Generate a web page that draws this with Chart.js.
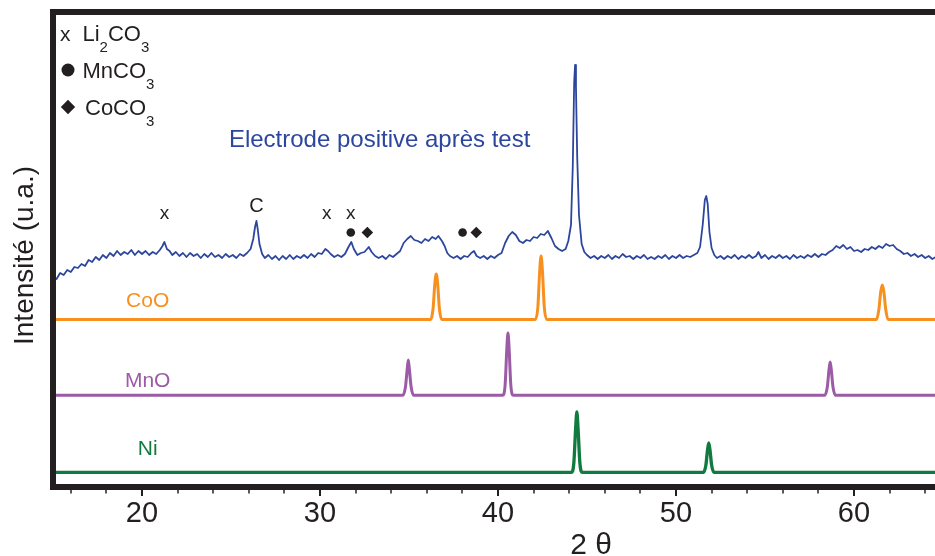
<!DOCTYPE html>
<html><head><meta charset="utf-8">
<script src="https://cdn.jsdelivr.net/npm/chart.js@4/dist/chart.umd.min.js"></script>
<style>html,body{margin:0;padding:0;background:#fff;overflow:hidden;width:935px;height:556px}canvas{display:block}</style>
</head><body><canvas id="c" width="950" height="556"></canvas>
<script>
// ---- axis ticks ----
const tickValues = [20, 30, 40, 50, 60];
const minorTickValues = [16,18,22,24,26,28,32,34,36,38,42,44,46,48,52,54,56,58,62,64];

// ---- series: [2θ, intensity (a.u., offset stacked)] ----
const electrodeScan = [
[15.0,210],[15.2,208],[15.4,214],[15.6,212],[15.8,217],[16.0,215],[16.2,220],[16.4,219],[16.6,223],[16.8,221],
[17.0,227],[17.2,225],[17.4,230],[17.6,227],[17.8,232],[18.0,229],[18.2,234],[18.4,231],[18.6,236],[18.8,232],
[19.0,235],[19.2,233],[19.4,237],[19.6,232],[19.8,236],[20.0,233],[20.2,236],[20.4,232],[20.6,235],[20.8,233],
[21.0,237],[21.15,241],[21.26,245],[21.4,238],[21.55,236],[21.7,232],[21.9,235],[22.1,231],[22.3,234],[22.5,230],
[22.7,234],[22.9,231],[23.1,233],[23.3,229],[23.5,233],[23.7,230],[23.9,234],[24.1,230],[24.3,232],[24.5,229],
[24.7,233],[24.9,230],[25.1,232],[25.3,229],[25.5,233],[25.7,231],[25.9,234],[26.1,238],[26.25,248],[26.35,260],
[26.43,266],[26.5,258],[26.6,243],[26.75,233],[26.9,229],[27.1,232],[27.3,228],[27.5,231],[27.7,227],[27.9,231],
[28.1,228],[28.3,232],[28.5,228],[28.7,231],[28.9,229],[29.1,232],[29.3,229],[29.5,233],[29.7,230],[29.9,234],
[30.1,233],[30.3,238],[30.45,236],[30.6,233],[30.8,230],[31.0,232],[31.2,230],[31.4,233],[31.6,240],[31.76,245],
[31.9,238],[32.1,232],[32.3,234],[32.5,235],[32.74,240],[32.9,235],[33.1,231],[33.3,229],[33.5,231],[33.7,228],
[33.9,232],[34.1,230],[34.3,233],[34.5,236],[34.7,244],[34.9,248],[35.1,251],[35.3,247],[35.5,246],[35.7,244],
[35.9,248],[36.1,246],[36.3,250],[36.5,248],[36.65,251],[36.85,246],[37.0,241],[37.15,234],[37.3,231],[37.5,229],
[37.7,231],[37.9,228],[38.1,231],[38.3,230],[38.5,234],[38.65,236],[38.8,231],[39.0,229],[39.2,231],[39.4,228],
[39.6,231],[39.8,229],[40.0,232],[40.2,234],[40.4,244],[40.6,251],[40.8,255],[41.0,252],[41.2,246],[41.4,244],
[41.6,247],[41.8,246],[42.0,250],[42.2,249],[42.4,253],[42.6,252],[42.8,256],[43.0,249],[43.2,241],[43.4,238],
[43.6,236],[43.8,238],[43.95,246],[44.1,262],[44.2,320],[44.28,405],[44.33,422],[44.38,400],[44.45,330],[44.55,272],
[44.7,243],[44.85,235],[45.0,232],[45.2,229],[45.4,231],[45.6,228],[45.8,231],[46.0,229],[46.2,232],[46.4,228],
[46.6,231],[46.8,229],[47.0,233],[47.2,230],[47.4,231],[47.6,228],[47.8,231],[48.0,229],[48.2,232],[48.4,228],
[48.6,230],[48.8,228],[49.0,231],[49.2,229],[49.4,232],[49.6,228],[49.8,231],[50.0,229],[50.2,232],[50.4,229],
[50.6,231],[50.8,230],[51.0,232],[51.2,234],[51.35,240],[51.5,262],[51.62,287],[51.7,291],[51.78,283],[51.88,255],
[52.0,239],[52.15,232],[52.3,229],[52.5,231],[52.7,228],[52.9,231],[53.1,229],[53.3,232],[53.5,228],[53.7,231],
[53.9,229],[54.1,232],[54.3,229],[54.5,231],[54.63,235],[54.8,229],[55.0,232],[55.2,228],[55.4,231],[55.6,229],
[55.8,232],[56.0,229],[56.2,231],[56.4,228],[56.6,232],[56.8,229],[57.0,231],[57.2,229],[57.4,232],[57.6,230],
[57.8,233],[58.0,230],[58.2,233],[58.4,232],[58.6,235],[58.8,237],[59.0,241],[59.2,239],[59.4,242],[59.6,238],
[59.8,240],[60.0,236],[60.2,237],[60.4,235],[60.6,238],[60.8,237],[61.0,240],[61.2,238],[61.4,241],[61.6,239],
[61.8,243],[62.0,241],[62.2,242],[62.4,238],[62.6,236],[62.8,233],[63.0,234],[63.2,231],[63.4,233],[63.6,230],
[63.8,232],[64.0,229],[64.2,231],[64.4,228],[64.6,230],[64.8,229],[65.0,231]
];
const cooPattern = [
[15,167.5],[36.22,167.5],[36.35,178],[36.45,203],[36.53,213],[36.61,203],[36.71,178],[36.84,167.5],
[42.1,167.5],[42.24,180],[42.34,215],[42.42,231],[42.5,215],[42.6,180],[42.74,167.5],
[61.27,167.5],[61.4,178],[61.5,195],[61.59,202],[61.68,195],[61.78,178],[61.91,167.5],[65,167.5]
];
const mnoPattern = [
[15,91.7],[34.66,91.7],[34.8,100],[34.9,118],[34.96,127],[35.02,118],[35.12,100],[35.26,91.7],
[40.26,91.7],[40.4,102],[40.5,140],[40.56,154],[40.62,140],[40.72,102],[40.86,91.7],
[58.36,91.7],[58.5,100],[58.6,118],[58.66,125],[58.72,118],[58.82,100],[58.96,91.7],[65,91.7]
];
const niPattern = [
[15,14.7],[44.12,14.7],[44.26,24],[44.36,58],[44.43,75],[44.5,58],[44.6,24],[44.74,14.7],
[51.54,14.7],[51.68,22],[51.77,37],[51.84,44],[51.91,37],[52.0,22],[52.14,14.7],[65,14.7]
];

// ---- texts ----
const seriesNames = ['Electrode positive après test', 'CoO', 'MnO', 'Ni'];
const seriesLabelAt = [[33.35, 340.3], [20.32, 180.3], [20.32, 100.3], [20.32, 32]]; // [2θ, intensity] of text baseline
const peakLetters = [['x', 21.26, 267.7], ['C', 26.43, 275], ['x', 30.38, 267.7], ['x', 31.73, 267.7]];
const peakSymbols = [['circle', 31.73, 254.5], ['diamond', 32.66, 254.5], ['circle', 38.01, 254.5], ['diamond', 38.78, 254.5]];
const legendItems = [['cross', 'Li_2CO_3'], ['circle', 'MnCO_3'], ['diamond', 'CoCO_3']];
const xTitle = '2 θ';
const yTitle = 'Intensité (u.a.)';

const colors = ['#2c469e', '#f7901e', '#9c5ba6', '#117a3e'];
const INK = '#231f20';
const FONT = '"Liberation Sans", Arial, Helvetica, sans-serif';

const toXY = arr => arr.map(p => ({x: p[0], y: p[1]}));

function drawSymbol(ctx, kind, x, y, s) {
  ctx.fillStyle = INK;
  if (kind === 'circle') {
    ctx.beginPath(); ctx.arc(x, y, s, 0, Math.PI * 2); ctx.fill();
  } else if (kind === 'diamond') {
    const d = s * 1.35;
    ctx.beginPath(); ctx.moveTo(x, y - d); ctx.lineTo(x + d, y); ctx.lineTo(x, y + d); ctx.lineTo(x - d, y); ctx.closePath(); ctx.fill();
  }
}

function drawFormula(ctx, str, x, y, size) {
  const parts = str.split('_');
  let cx = x;
  parts.forEach((p, i) => {
    let main = p;
    if (i > 0) {
      const sub = p[0]; main = p.slice(1);
      ctx.font = (size * 0.68).toFixed(1) + 'px ' + FONT;
      ctx.fillText(sub, cx, y + size * 0.5);
      cx += ctx.measureText(sub).width;
    }
    if (main) {
      ctx.font = size + 'px ' + FONT;
      ctx.fillText(main, cx, y);
      cx += ctx.measureText(main).width;
    }
  });
}

const decorPlugin = {
  id: 'decor',
  afterDatasetsDraw(chart) {
    const {ctx, chartArea: a, scales: {x, y}} = chart;
    ctx.save();
    ctx.textBaseline = 'alphabetic';
    seriesNames.forEach((name, i) => {
      ctx.fillStyle = colors[i];
      ctx.font = (i === 0 ? 24 : 21) + 'px ' + FONT;
      ctx.textAlign = 'center';
      ctx.fillText(name, x.getPixelForValue(seriesLabelAt[i][0]), y.getPixelForValue(seriesLabelAt[i][1]));
    });
    ctx.fillStyle = INK;
    peakLetters.forEach(([t, th, lv]) => {
      ctx.font = (t === 'C' ? 20 : 19) + 'px ' + FONT;
      ctx.fillText(t, x.getPixelForValue(th), y.getPixelForValue(lv));
    });
    peakSymbols.forEach(([k, th, lv]) => drawSymbol(ctx, k, x.getPixelForValue(th), y.getPixelForValue(lv), 4.3));
    ctx.textAlign = 'left';
    legendItems.forEach(([k, f], i) => {
      const by = a.top + 28.5 + i * 37;
      ctx.fillStyle = INK;
      if (k === 'cross') {
        ctx.font = '21px ' + FONT; ctx.fillText('x', a.left + 7, by);
        drawFormula(ctx, f, a.left + 29.5, by, 22);
      } else {
        drawSymbol(ctx, k, a.left + 15, by - 7.5, k === 'circle' ? 6.5 : 5.3);
        drawFormula(ctx, f, a.left + (k === 'circle' ? 29.5 : 32), by, 22);
      }
    });
    ctx.strokeStyle = INK;
    minorTickValues.forEach(v => {
      const px = Math.round(x.getPixelForValue(v));
      ctx.lineWidth = 1.5; ctx.beginPath(); ctx.moveTo(px, a.bottom); ctx.lineTo(px, a.bottom + 6.5); ctx.stroke();
    });
    tickValues.forEach(v => {
      const px = Math.round(x.getPixelForValue(v));
      ctx.lineWidth = 2; ctx.beginPath(); ctx.moveTo(px, a.bottom); ctx.lineTo(px, a.bottom + 9); ctx.stroke();
    });
    ctx.lineWidth = 6;
    ctx.beginPath();
    ctx.moveTo(a.left - 3, a.top); ctx.lineTo(a.right + 3, a.top);
    ctx.moveTo(a.left, a.top - 3); ctx.lineTo(a.left, a.bottom + 3);
    ctx.moveTo(a.left - 3, a.bottom); ctx.lineTo(a.right + 3, a.bottom);
    ctx.moveTo(a.right, a.top - 3); ctx.lineTo(a.right, a.bottom + 3);
    ctx.stroke();
    ctx.fillStyle = INK;
    ctx.font = '30px ' + FONT; ctx.textAlign = 'center';
    ctx.fillText(xTitle, x.getPixelForValue(45.23), 554);
    ctx.save();
    ctx.translate(a.left - 20, (a.top + a.bottom) / 2 + 6);
    ctx.rotate(-Math.PI / 2);
    ctx.font = '28px ' + FONT;
    ctx.fillText(yTitle, 0, 0);
    ctx.restore();
    ctx.restore();
  }
};

const ds = (data, i, w, smooth) => ({
  label: seriesNames[i], data: toXY(data), borderColor: colors[i], borderWidth: w,
  pointRadius: 0, tension: 0, cubicInterpolationMode: smooth ? 'monotone' : 'default', fill: false,
  borderJoinStyle: 'round'
});

new Chart(document.getElementById('c'), {
  type: 'line',
  data: { datasets: [ds(electrodeScan, 0, 1.8, false), ds(cooPattern, 1, 3, true), ds(mnoPattern, 2, 3, true), ds(niPattern, 3, 3.3, true)] },
  options: {
    responsive: false, animation: false, events: [],
    layout: { padding: { left: 53, top: 12, right: 7, bottom: 0 } },
    plugins: { legend: { display: false }, tooltip: { enabled: false }, title: { display: false } },
    scales: {
      x: {
        type: 'linear', min: 15, max: 65,
        grid: { display: false, drawTicks: false }, border: { display: false },
        afterFit: s => { s.height = 69; },
        afterBuildTicks: s => { s.ticks = tickValues.map(v => ({value: v})); },
        ticks: { color: INK, font: { family: FONT, size: 29 }, padding: 10, maxRotation: 0, autoSkip: false }
      },
      y: { type: 'linear', min: 0, max: 475, display: false }
    }
  },
  plugins: [decorPlugin]
});
</script></body></html>
